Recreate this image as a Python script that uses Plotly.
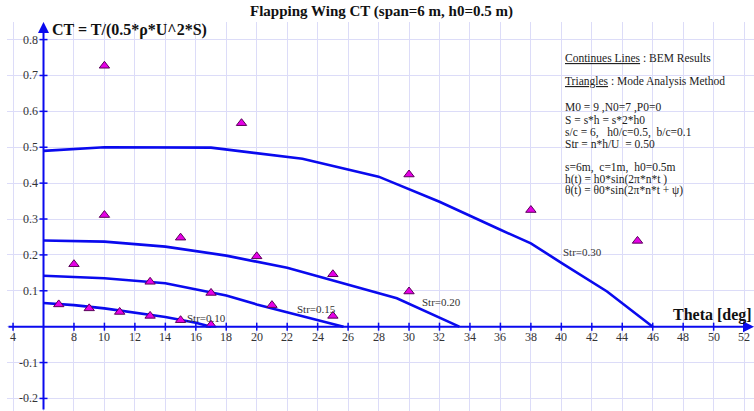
import plotly.graph_objects as go

# ---- BEM curves (continuous lines), one per Strouhal number ----
str030_theta = [6, 10, 17, 23, 28, 32, 36, 38, 40, 42.5, 43, 46]
str030_ct = [0.490, 0.500, 0.499, 0.468, 0.418, 0.348, 0.270, 0.232, 0.178, 0.110, 0.098, 0.0]

str020_theta = [6, 10, 14, 18, 22, 29.2, 33.3]
str020_ct = [0.240, 0.237, 0.223, 0.198, 0.164, 0.079, 0.0]

str015_theta = [6, 10, 14, 18, 20, 25.7]
str015_ct = [0.142, 0.135, 0.121, 0.087, 0.062, 0.0]

str010_theta = [6, 8, 10, 12, 14, 16, 17]
str010_ct = [0.066, 0.060, 0.051, 0.040, 0.027, 0.011, 0.0]

# ---- Mode analysis method results (triangles) ----
tri_theta = [10, 19, 10, 8, 15, 20, 13, 17, 7, 9, 11, 13, 15, 17,
             25, 21, 25, 30, 30, 38, 45]
tri_ct = [0.727, 0.567, 0.311, 0.174, 0.248, 0.196, 0.125, 0.094, 0.062, 0.051,
          0.041, 0.030, 0.018, 0.005, 0.146, 0.060, 0.030, 0.424, 0.098, 0.325, 0.239]

# ---- curve labels ----
label_text = ["Str=0.10", "Str=0.15", "Str=0.20", "Str=0.30"]
label_theta = [15.3, 22.5, 30.7, 40.0]
label_ct = [0.024, 0.049, 0.068, 0.207]

# ---- axis ticks ----
x_ticks = [4, 8, 10, 12, 14, 16, 18, 20, 22, 24, 26, 28, 30, 32, 34, 36, 38,
           40, 42, 44, 46, 48, 50, 52]
y_ticks = [0.8, 0.7, 0.6, 0.5, 0.4, 0.3, 0.2, 0.1, -0.1, -0.2]

# ---- notes block ----
notes = [
    "<u>Continues Lines</u> : BEM Results",
    "<u>Triangles</u> : Mode Analysis Method",
    "M0 = 9 ,N0=7 ,P0=0",
    "S = s*h = s*2*h0",
    "s/c = 6,   h0/c=0.5,  b/c=0.1",
    "Str = n*h/U  = 0.50",
    "s=6m,  c=1m,  h0=0.5m",
    "h(t) = h0*sin(2π*n*t )",
    "θ(t) = θ0*sin(2π*n*t + ψ)",
]
notes_py = [58, 81, 108, 120, 132, 144, 167, 179, 191]

W, H = 754, 411
M_L, M_T = 7, 22
X_RANGE = [3.603, 52.65]
Y_RANGE = [-0.235, 0.849]
SERIF = "Liberation Serif"
BLUE = "#0a0aee"
TXT = "#333333"


def paper_x(px):
    return (px - M_L) / (W - M_L)


def paper_y(py):
    return (H - py) / (H - M_T)


fig = go.Figure()

for th, ct in [(str030_theta, str030_ct), (str020_theta, str020_ct),
               (str015_theta, str015_ct), (str010_theta, str010_ct)]:
    fig.add_trace(go.Scatter(x=th, y=ct, mode="lines",
                             line=dict(color=BLUE, width=2.6),
                             showlegend=False, hoverinfo="skip"))

fig.add_trace(go.Scatter(
    x=tri_theta, y=tri_ct, mode="markers", showlegend=False,
    marker=dict(symbol="triangle-up", size=9, color="#e600e6",
                line=dict(color="#5a005a", width=1))))

annotations = []

# axes drawn as arrows crossing at (6, 0)
annotations.append(dict(x=6, y=Y_RANGE[1], ax=6, ay=Y_RANGE[0], xref="x", yref="y",
                        axref="x", ayref="y", showarrow=True, arrowhead=2,
                        arrowsize=1.1, arrowwidth=2, arrowcolor=BLUE, text=""))
annotations.append(dict(x=X_RANGE[1], y=0, ax=X_RANGE[0], ay=0, xref="x", yref="y",
                        axref="x", ayref="y", showarrow=True, arrowhead=2,
                        arrowsize=1.1, arrowwidth=2, arrowcolor=BLUE, text=""))

for t in x_ticks:
    annotations.append(dict(x=t, y=0, xref="x", yref="y", text=str(t),
                            showarrow=False, xanchor="center", yanchor="top",
                            yshift=-1, font=dict(family=SERIF, size=12, color=TXT)))
for t in y_ticks:
    annotations.append(dict(x=6, y=t, xref="x", yref="y", text=f"{t:.1f}",
                            showarrow=False, xanchor="right", yanchor="middle",
                            xshift=-4, font=dict(family=SERIF, size=12, color=TXT)))

for txt, th, ct in zip(label_text, label_theta, label_ct):
    annotations.append(dict(x=th, y=ct, xref="x", yref="y", text=txt,
                            showarrow=False, xanchor="left", yanchor="middle",
                            font=dict(family=SERIF, size=11, color=TXT)))

for line, py in zip(notes, notes_py):
    annotations.append(dict(x=paper_x(563), y=paper_y(py), xref="paper", yref="paper",
                            text=line, showarrow=False, xanchor="left",
                            yanchor="middle",
                            font=dict(family=SERIF, size=11.5, color="#222222")))

# title and axis titles
annotations.append(dict(x=paper_x(381), y=paper_y(12), xref="paper", yref="paper",
                        text="<b>Flapping Wing CT (span=6 m, h0=0.5 m)</b>",
                        showarrow=False, xanchor="center", yanchor="middle",
                        font=dict(family=SERIF, size=15, color="#111111")))
annotations.append(dict(x=paper_x(50), y=paper_y(30), xref="paper", yref="paper",
                        text="<b>CT = T/(0.5*ρ*U^2*S)</b>",
                        showarrow=False, xanchor="left", yanchor="middle",
                        font=dict(family=SERIF, size=16, color="#111111")))
annotations.append(dict(x=1, y=paper_y(315), xref="paper", yref="paper",
                        text="<b>Theta [deg]</b>",
                        showarrow=False, xanchor="right", yanchor="middle",
                        font=dict(family=SERIF, size=16, color="#111111")))

# small tick marks crossing the axes
shapes = []
for t in x_ticks:
    shapes.append(dict(type="line", xref="x", yref="y", x0=t, x1=t,
                       ysizemode="pixel", yanchor=0, y0=-4, y1=4,
                       line=dict(color=BLUE, width=1.5)))
for t in y_ticks:
    shapes.append(dict(type="line", xref="x", yref="y", y0=t, y1=t,
                       xsizemode="pixel", xanchor=6, x0=-4, x1=4,
                       line=dict(color=BLUE, width=1.5)))

grid = "#dcdcf8"
fig.update_layout(
    width=W, height=H,
    margin=dict(l=M_L, r=0, t=M_T, b=0),
    paper_bgcolor="white", plot_bgcolor="white",
    xaxis=dict(range=X_RANGE, tick0=0, dtick=2, showgrid=True, gridcolor=grid,
               gridwidth=1, zeroline=False, showticklabels=False, showline=False,
               fixedrange=True),
    yaxis=dict(range=Y_RANGE, tick0=0, dtick=0.1, showgrid=True, gridcolor=grid,
               gridwidth=1, zeroline=False, showticklabels=False, showline=False,
               fixedrange=True),
    annotations=annotations,
    shapes=shapes,
    showlegend=False,
)

fig.write_html("out.html")
